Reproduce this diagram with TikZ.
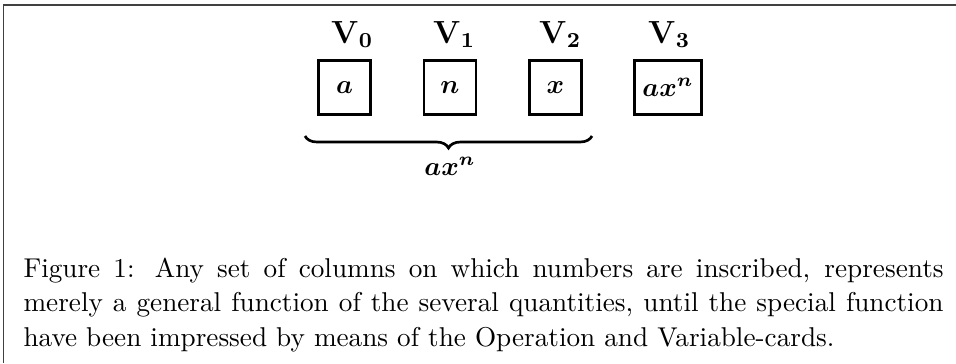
\documentclass[tikz,border=0pt]{standalone}
\usetikzlibrary{decorations.pathreplacing}
\begin{document}
\begin{tikzpicture}[x=0.375pt,y=-0.375pt,
  cell/.style={draw=black,line width=1.1pt,minimum width=19.5pt,minimum height=20pt,inner sep=0pt,font=\boldmath},
  vlab/.style={anchor=base,inner sep=0pt,font=\fontsize{12}{14}\selectfont},
  frameline/.style={draw=black!75,line width=0.55pt}]
\useasboundingbox (0,0) rectangle (956,363);
\coordinate (tl) at (3.3,5);
\coordinate (tr) at (956,5);
\coordinate (bl) at (3.3,363);
\draw[frameline] (tr) -- (tl) -- (bl);
% cells
\node[cell] (c0) at (344.5,87.5) {$a$};
\node[cell] (c1) at (450,87.5) {$n$};
\node[cell] (c2) at (555.5,87.5) {$x$};
\node[cell,minimum width=25pt] (c3) at (668,87.5) {$ax^n$};
% labels
\node[vlab] (v0) at (345,43) {$\mathbf{V}\rlap{$_{\mathbf{0}}$}$};
\node[vlab] (v1) at (447,43) {$\mathbf{V}\rlap{$_{\mathbf{1}}$}$};
\node[vlab] (v2) at (553,43) {$\mathbf{V}\rlap{$_{\mathbf{2}}$}$};
\node[vlab] (v3) at (662,43) {$\mathbf{V}\rlap{$_{\mathbf{3}}$}$};
% brace
\coordinate (bs) at (305,136);
\coordinate (be) at (592,136);
\draw[line width=1pt,decorate,decoration={brace,mirror,amplitude=4.5pt}] (bs) -- (be);
\node[inner sep=0pt,font=\boldmath] (lbl) at (450,166) {$ax^n$};
% caption
\node[anchor=north west,inner sep=0pt] (cap) at (23,257)
  {\fontsize{10.2}{13.1}\selectfont\vbox{\hsize=345pt\parindent=0pt
   \hbox to\hsize{Figure 1: Any set of columns on which numbers are inscribed, represents}
   \hbox to\hsize{merely a general function of the several quantities, until the special function}
   \hbox{have been impressed by means of the Operation and Variable-cards.}}};
\end{tikzpicture}
\end{document}
